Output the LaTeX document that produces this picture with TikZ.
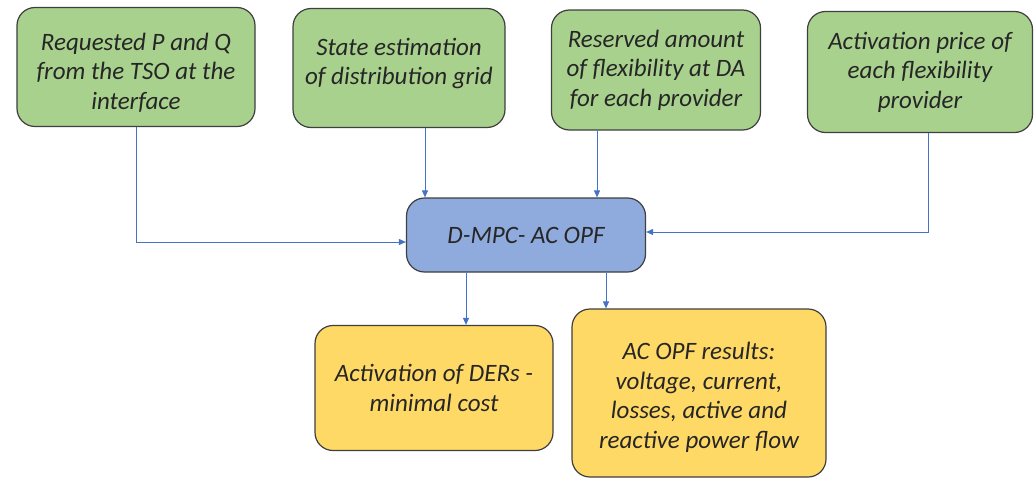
\documentclass[tikz,border=0pt]{standalone}
\usepackage{fontspec}
\setmainfont{Carlito}
\usetikzlibrary{arrows.meta}
\definecolor{gfill}{HTML}{A9D18E}
\definecolor{bfill}{HTML}{8FAADC}
\definecolor{yfill}{HTML}{FFD966}
\definecolor{edge}{HTML}{3F3F3F}
\definecolor{arrc}{HTML}{4472C4}
\tikzset{
  box/.style={draw=edge, line width=1.2pt, rounded corners=18pt, align=center,
    font=\fontsize{25}{29.5}\selectfont\itshape, text=black!85, inner sep=2pt},
  gbox/.style={box, fill=gfill},
  bbox/.style={box, fill=bfill},
  ybox/.style={box, fill=yfill},
  arr/.style={draw=arrc, line width=0.9pt, -{Triangle[length=7pt,width=6pt]}}
}
\begin{document}
\begin{tikzpicture}[x=1pt,y=1pt]
\useasboundingbox (0,0) rectangle (1035,-479);
\node[gbox, minimum width=238, minimum height=119] (b1) at (136,-67)
  {\rule{0pt}{28pt}Requested P and Q\\from the TSO at the\\interface};
\node[gbox, minimum width=212, minimum height=119] (b2) at (399,-68)
  {State estimation\\of distribution grid\\[-16pt]\mbox{}};
\node[gbox, minimum width=209, minimum height=120] (b3) at (656,-70)
  {Reserved amount\\of flexibility at DA\\for each provider};
\node[gbox, minimum width=225, minimum height=121] (b4) at (920,-72)
  {Activation price of\\each flexibility\\provider};
\node[bbox, minimum width=239, minimum height=74] (c) at (526,-235)
  {D-MPC- AC OPF};
\node[ybox, minimum width=238, minimum height=125] (b5) at (434,-388)
  {Activation of DERs -\\minimal cost};
\node[ybox, minimum width=254, minimum height=168] (b6) at (699,-393)
  {\rule{0pt}{26pt}AC OPF results:\\voltage, current,\\losses, active and\\reactive power flow};
\draw[arr] (b1.south) |- ([yshift=-7pt]c.west);
\draw[arr] ([xshift=26pt]b2.south) -- ([xshift=26pt]b2.south |- c.north);
\draw[arr] ([xshift=-59pt]b3.south) -- ([xshift=-59pt]b3.south |- c.north);
\draw[arr] ([xshift=8pt]b4.south) |- ([yshift=3pt]c.east);
\draw[arr] ([xshift=-60pt]c.south) -- ([xshift=-60pt]c.south |- b5.north);
\draw[arr] ([xshift=80pt]c.south) -- ([xshift=80pt]c.south |- b6.north);
\end{tikzpicture}
\end{document}
